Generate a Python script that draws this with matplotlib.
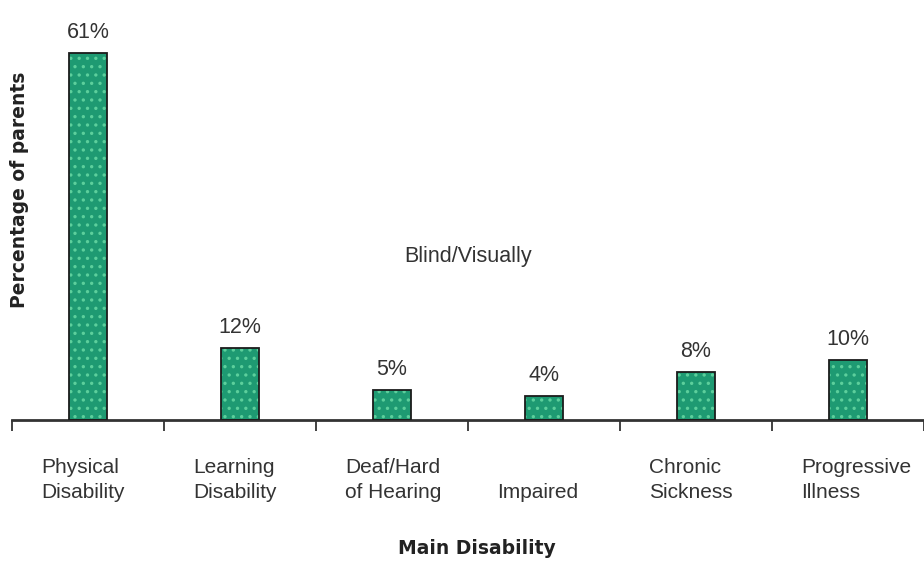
# bar chart of main disability of parents
import matplotlib
matplotlib.use('Agg')
import matplotlib.pyplot as plt
import numpy as np

# data
categories = ['Physical\nDisability', 'Learning\nDisability', 'Deaf/Hard\nof Hearing',
              '\nImpaired', 'Chronic\nSickness', 'Progressive\nIllness']
values = [61, 12, 5, 4, 8, 10]
value_labels = ['61%', '12%', '5%', '4%', '8%', '10%']

plt.rcParams['font.family'] = ['Liberation Sans', 'DejaVu Sans']
plt.rcParams['hatch.linewidth'] = 1.2

fig = plt.figure(figsize=(9.24, 5.65), dpi=100)
ax = fig.add_axes([12/924, 145/565, 912/924, 420/565])

xs = np.arange(len(values))
# filled bars with a light dotted texture, then a dark outline on top
ax.bar(xs, values, width=0.25, color='#1e9a72', edgecolor='#5ccf9c',
       linewidth=0, hatch='..', zorder=2)
ax.bar(xs, values, width=0.25, fill=False, edgecolor='#1b1b1b',
       linewidth=1.3, zorder=3)

# percentage labels over the bars
for x, v, lab in zip(xs, values, value_labels):
    ax.annotate(lab, (x, v), xytext=(0, 7), textcoords='offset points',
                ha='center', va='bottom', fontsize=15.5, color='#333333')

# category labels, left aligned inside each slot
trans = ax.get_xaxis_transform()
for x, lab in zip(xs, categories):
    ax.text(x - 0.31, -0.143, lab, transform=trans, ha='left', va='center',
            fontsize=15, color='#333333', linespacing=1.4)

# the stray first line of "Blind/Visually Impaired"
ax.text(2.5, 27.2, 'Blind/Visually', ha='center', va='center',
        fontsize=15.5, color='#333333')

ax.set_xlim(-0.5, len(values) - 0.5)
ax.set_ylim(0, 69.8)
ax.set_xticks(np.arange(len(values) + 1) - 0.5)
ax.set_xticklabels([])
ax.set_yticks([])
ax.tick_params(axis='x', direction='out', length=8, width=1.3, color='#333333')
for s in ['top', 'right', 'left']:
    ax.spines[s].set_visible(False)
ax.spines['bottom'].set_color('#333333')
ax.spines['bottom'].set_linewidth(2)
ax.patch.set_alpha(0)

fig.text(20/924, 1 - 190/565, 'Percentage of parents', rotation=90,
         ha='center', va='center', fontsize=13.5, fontweight='bold',
         family=['DejaVu Sans'], color='#222222')
fig.text(477/924, 1 - 548/565, 'Main Disability', ha='center', va='center',
         fontsize=13.5, fontweight='bold',
         family=['DejaVu Sans'], color='#222222')

fig.savefig('out.png', dpi=100)
